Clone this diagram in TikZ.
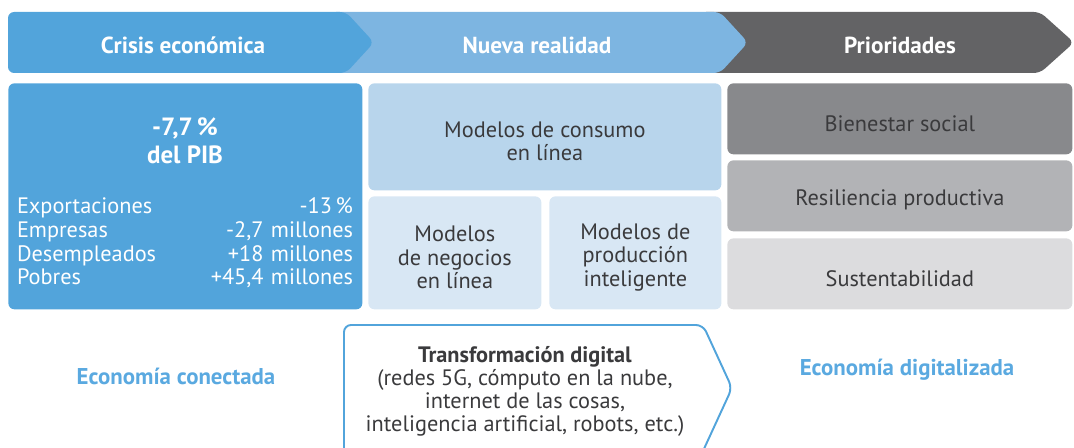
\documentclass[tikz,border=0pt]{standalone}
\usepackage{fontspec}
\setmainfont{PT Sans}
\usetikzlibrary{positioning}
\definecolor{crisisblue}{HTML}{52A4DB}
\definecolor{nuevablue}{HTML}{7DB5E1}
\definecolor{priogray}{HTML}{636365}
\definecolor{consumoblue}{HTML}{B8D5EC}
\definecolor{modeloblue}{HTML}{D8E7F4}
\definecolor{grayA}{HTML}{88898C}
\definecolor{grayB}{HTML}{B2B3B6}
\definecolor{grayC}{HTML}{DCDCDE}
\definecolor{textgray}{HTML}{3A3A3C}
\definecolor{ecoblue}{HTML}{5AA9E0}
\newcommand\topstrut{\rule{0pt}{14pt}}

\begin{document}
\begin{tikzpicture}[x=0.02cm,y=-0.02cm,
box/.style={fill=#1,rounded corners=3.5pt,inner sep=0pt,anchor=north west,
    font=\fontsize{12.7}{13.4}\selectfont,text=textgray,align=center},
sz/.style 2 args={minimum width=#1*0.02cm,minimum height=#2*0.02cm},
head/.style={font=\fontsize{13.2}{14}\selectfont\bfseries,text=white},
eco/.style={font=\fontsize{13}{14}\selectfont\bfseries,text=ecoblue},
chev/.style={fill=#1,rounded corners=3.5pt}]

\useasboundingbox (0,0) rectangle (1074,448);

% cabecera
\fill[chev=priogray] (700,12) -- (1040,12) -- (1074,42.5) -- (1040,73) -- (700,73) -- cycle;
\fill[chev=nuevablue] (330,12) -- (720,12) -- (748,42.5) -- (720,73) -- (330,73) -- cycle;
\fill[chev=crisisblue] (8,12) -- (346,12) -- (374,42.5) -- (346,73) -- (8,73) -- cycle;
\node[head] (crisis) at (183,45) {Crisis económica};
\node[head] (nueva) at (537,45) {Nueva realidad};
\node[head] (prio) at (900,45) {Prioridades};

% crisis
\node[box=crisisblue,sz={354}{226}] (pib) at (8,83) {};
\node[font=\fontsize{14.2}{15.8}\selectfont\bfseries,text=white,align=center]
    (pibval) at (185,141) {-7,7\,\%\\del PIB};
\node[font=\fontsize{12.7}{13.4}\selectfont,text=white,text width=336*0.02cm,align=left]
    (cifras) at (185,243) {Exportaciones\hfill -13\,\%\\
    Empresas\hfill -2,7 millones\\
    Desempleados\hfill +18 millones\\
    Pobres\hfill +45,4 millones};

% nueva realidad
\node[box=consumoblue,sz={353}{107}] (consumo) at (368,83) {\topstrut Modelos de consumo\\en línea};
\node[box=modeloblue,sz={173}{113}] (negocios) at (368,196) {\topstrut Modelos\\de negocios\\en línea};
\node[box=modeloblue,sz={172}{113}] (produccion) at (549,196) {\topstrut Modelos de\\producción\\inteligente};

% prioridades
\foreach \y/\c/\t [count=\i] in {83/grayA/Bienestar social,160/grayB/Resiliencia productiva,238/grayC/Sustentabilidad}
\node[box=\c,sz={345}{71}] (prio-\i) at (727,\y) {\topstrut\t};

% transformacion digital
\draw[crisisblue,line width=1.1pt,rounded corners=4pt]
    (344,452) -- (344,325) -- (703,325) -- (732,388) -- (703,451);
\node[font=\fontsize{12.7}{13.1}\selectfont,text=textgray,align=center]
    (trans) at (525,391.5) {\textbf{Transformación digital}\\(redes 5G, cómputo en la nube,\\
    internet de las cosas,\\inteligencia artificial, robots, etc.)};

\node[eco] (conectada) at (176,376) {Economía conectada};
\node[eco] (digitalizada) at (907,370) {Economía digitalizada};
\end{tikzpicture}
\end{document}
